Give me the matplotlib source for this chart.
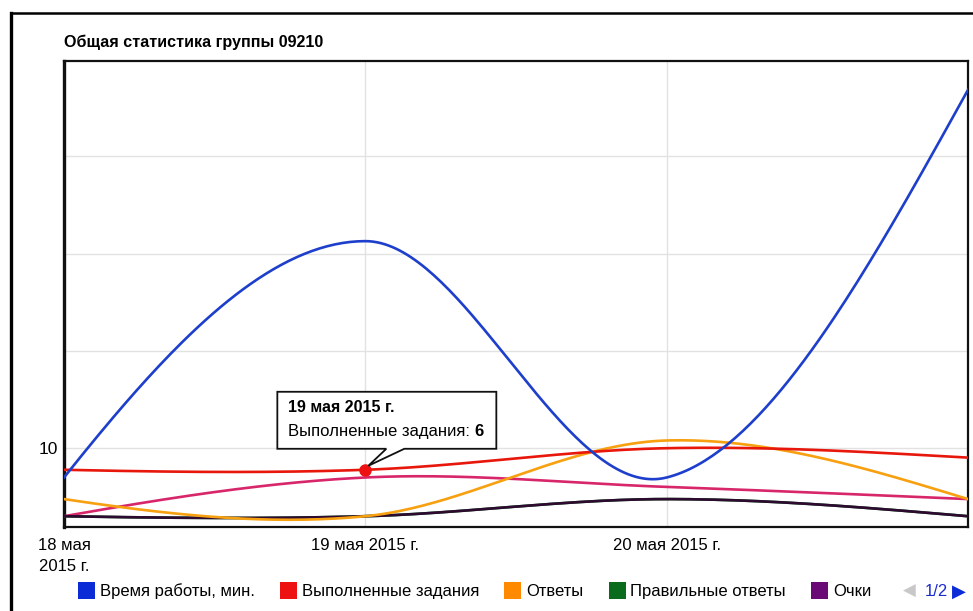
import numpy as np
import matplotlib
matplotlib.use("Agg")
import matplotlib.pyplot as plt
from matplotlib.patches import Polygon, Rectangle
from matplotlib.lines import Line2D
from matplotlib.transforms import IdentityTransform

plt.rcParams['font.family'] = ['Liberation Sans', 'DejaVu Sans']

# data (log scale y axis)
days = [0, 1, 2, 3]
tick_labels = ["18 мая\n2015 г.", "19 мая 2015 г.", "20 мая 2015 г."]
work_time = [5, 1340, 5, 48000]      # Время работы, мин.
done_tasks = [6, 6, 10, 8]           # Выполненные задания
answers = [3, 2, 12, 3]              # Ответы
correct = [2, 2, 3, 2]               # Правильные ответы
points = [2, 2, 3, 2]                # Очки
series6 = [2, 5, 4, 3]               # series from legend page 2

legend_labels = ["Время работы, мин.", "Выполненные задания", "Ответы",
                 "Правильные ответы", "Очки"]
legend_colors = ["#0b2bd6", "#ee1111", "#ff8a00", "#0b6b1c", "#6a0a75"]

W, H = 973, 611


def smooth(xs, ys, n=80):
    """cubic hermite curve through the points, in log space"""
    xs = np.asarray(xs, float)
    ly = np.log10(np.asarray(ys, float))
    m = np.zeros_like(ly)
    m[1:-1] = (ly[2:] - ly[:-2]) / 2
    m[0] = 1.6 * (ly[1] - ly[0]) - 0.6 * m[1]
    m[-1] = 1.5 * (ly[-1] - ly[-2]) - 0.5 * m[-2]
    out_x, out_y = [], []
    for i in range(len(xs) - 1):
        t = np.linspace(0, 1, n)
        h00 = 2 * t**3 - 3 * t**2 + 1
        h10 = t**3 - 2 * t**2 + t
        h01 = -2 * t**3 + 3 * t**2
        h11 = t**3 - t**2
        out_x.append(xs[i] + t * (xs[i + 1] - xs[i]))
        out_y.append(h00 * ly[i] + h10 * m[i] + h01 * ly[i + 1] + h11 * m[i + 1])
    return np.concatenate(out_x), 10 ** np.concatenate(out_y)


fig = plt.figure(figsize=(W / 100, H / 100), dpi=100)
ax = fig.add_axes([64 / W, 1 - 527 / H, (968 - 64) / W, (527 - 61) / H])

ax.set_yscale('log')
ax.set_xlim(0, 3)
ax.set_ylim(1.55, 95000)

lw = 1.9
ax.plot(*smooth(days, series6), color="#d8266a", lw=lw, zorder=3)
ax.plot(*smooth(days, correct), color="#0b6b1c", lw=lw, zorder=3)
ax.plot(*smooth(days, points), color="#2e0a30", lw=lw, zorder=3)
ax.plot(*smooth(days, answers), color="#f7a010", lw=lw, zorder=4)
ax.plot(*smooth(days, done_tasks), color="#e8170c", lw=lw, zorder=5)
ax.plot(*smooth(days, work_time), color="#1d3fcc", lw=lw, zorder=6)
ax.plot(days[1], done_tasks[1], 'o', color="#ee1111", ms=8, zorder=7)

ax.set_xticks(days[:3])
ax.set_xticklabels(tick_labels, fontsize=12, linespacing=1.5)
ax.set_yticks([10, 100, 1000, 10000])
ax.set_yticklabels(["10", "", "", ""], fontsize=12.5)
ax.yaxis.set_minor_locator(matplotlib.ticker.NullLocator())
ax.tick_params(length=0)
ax.tick_params(axis='x', pad=8)
ax.tick_params(axis='y', pad=4)
ax.grid(True, color="#e2e2e2", lw=1)
ax.set_axisbelow(True)
for s in ax.spines.values():
    s.set_color("#111111")
    s.set_linewidth(1.6)
ax.spines['left'].set_linewidth(2.4)

# title
fig.text(64 / W, 1 - 42 / H, "Общая статистика группы 09210", fontsize=11.6,
         fontweight='bold', va='center', ha='left')

# outer screenshot frame
fig.add_artist(Line2D([11 / W, 11 / W], [0, 1 - 13 / H], color='black', lw=2.4))
fig.add_artist(Line2D([11 / W, 1], [1 - 13 / H, 1 - 13 / H], color='black', lw=1.8))

# tooltip
fig.canvas.draw()
renderer = fig.canvas.get_renderer()
tx, ty = ax.transData.transform((days[1], done_tasks[1]))
ty += 1
box = [(tx - 88, ty + 20), (tx + 21, ty + 20), (tx + 3, ty + 3), (tx + 39, ty + 20),
       (tx + 131, ty + 20), (tx + 131, ty + 77), (tx - 88, ty + 77)]
fig.add_artist(Polygon(box, closed=True, facecolor='white', edgecolor='#111111',
                       lw=1.3, transform=IdentityTransform(), zorder=10))
fig.text(tx - 77, ty + 61, "19 мая 2015 г.", fontsize=11.5, fontweight='bold',
         va='center', ha='left', transform=IdentityTransform(), zorder=11)
t1 = fig.text(tx - 77, ty + 37, "Выполненные задания: ", fontsize=12,
              va='center', ha='left', transform=IdentityTransform(), zorder=11)
ext = t1.get_window_extent(renderer)
fig.text(ext.x1, ty + 37, "6", fontsize=12, fontweight='bold', va='center',
         ha='left', transform=IdentityTransform(), zorder=11)

# legend
x = 78
base = H - 596
for lab, col in zip(legend_labels, legend_colors):
    fig.add_artist(Rectangle((x, base - 3), 17, 17, facecolor=col, edgecolor='none',
                             transform=IdentityTransform()))
    t = fig.text(x + 22, base, lab, fontsize=12, va='baseline', ha='left',
                 transform=IdentityTransform())
    e = t.get_window_extent(renderer)
    x = e.x1 + 25

fig.text(903, base, "◀", fontsize=12, color="#c8c8c8", va='baseline', ha='left',
         transform=IdentityTransform())
fig.text(925, base, "1/2", fontsize=12, color="#1b2bd0", va='baseline', ha='left',
         transform=IdentityTransform())
fig.text(952, base - 1, "▶", fontsize=13, color="#0b2bd6", va='baseline', ha='left',
         transform=IdentityTransform())

fig.savefig("out.png", dpi=100)
